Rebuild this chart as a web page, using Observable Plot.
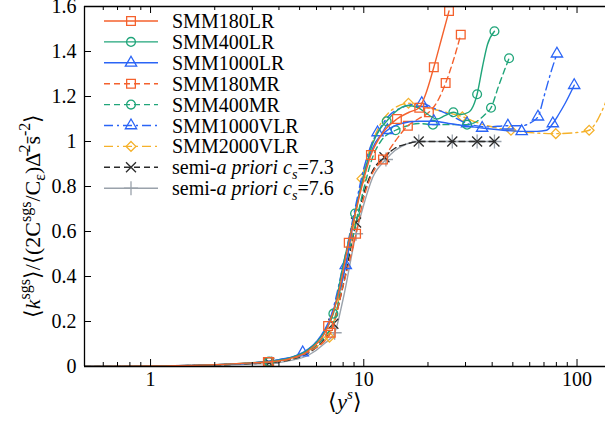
<!DOCTYPE html>
<html><head><meta charset="utf-8">
<script src="https://cdn.jsdelivr.net/npm/d3@7"></script>
<script src="https://cdn.jsdelivr.net/npm/@observablehq/plot@0.6"></script>
<style>body{margin:0;background:#fff} svg{display:block}</style>
</head><body><div id="chart"></div>
<script>
// ---- data ----
const xTicks = [1, 10, 100];
const xMinorTicks = [0.6,0.7,0.8,0.9,2,3,4,5,6,7,8,9,20,30,40,50,60,70,80,90];
const yTicks = [0, 0.2, 0.4, 0.6, 0.8, 1, 1.2, 1.4, 1.6];

const names = ["SMM180LR","SMM400LR","SMM1000LR","SMM180MR","SMM400MR","SMM1000VLR","SMM2000VLR","semi-a priori cs=7.3","semi-a priori cs=7.6"];

const smm180lrX = [0.49,1,2,3,3.55,4.5,5.5,6.8,7.5,8.5,9.5,10.8,12.3,14.3,16.3,18.2,19.5,21.3,23.2,25.1];
const smm180lrY = [0,0.002,0.008,0.016,0.02,0.035,0.07,0.18,0.3,0.55,0.75,0.94,1.04,1.10,1.13,1.15,1.21,1.33,1.46,1.58];
const smm180lrMX = [3.55,6.8,8.5,10.8,14.3,18.2,21.3,25.1];
const smm180lrMY = [0.02,0.18,0.55,0.94,1.10,1.15,1.33,1.58];

const smm400lrX = [0.49,1,2,3,3.6,4.5,5.5,6.5,7.2,8,9.1,10,11,12,12.8,14,16,18,20,22,24,26.3,28.5,31,33,34,36,38,41];
const smm400lrY = [0,0.002,0.008,0.017,0.022,0.038,0.075,0.15,0.235,0.45,0.68,0.85,0.99,1.06,1.09,1.13,1.16,1.15,1.12,1.10,1.115,1.13,1.12,1.13,1.17,1.21,1.33,1.43,1.49];
const smm400lrMX = [3.6,7.2,9.1,12.8,26.3,34,41];
const smm400lrMY = [0.022,0.235,0.68,1.09,1.13,1.21,1.49];

const smm1000lrX = [0.49,1,2,3,4,5.17,6,7,8.23,9,10,11,12.9,15,18,21.3,25,30,35.9,45,55,65,72,77,82,88,97];
const smm1000lrY = [0,0.002,0.008,0.016,0.03,0.062,0.11,0.22,0.45,0.66,0.85,0.97,1.05,1.08,1.09,1.09,1.08,1.07,1.06,1.05,1.045,1.045,1.05,1.08,1.12,1.17,1.25];
const smm1000lrMX = [5.17,8.23,12.9,21.3,35.9,55,77,97];
const smm1000lrMY = [0.062,0.45,1.05,1.09,1.06,1.045,1.08,1.25];

const smm180mrX = [0.49,1,2,3,3.6,4.5,5.5,7,8,9.2,10,11,12.3,14,16.1,18,20.2,22.2,24.2,26.3,28.5];
const smm180mrY = [0,0.002,0.007,0.015,0.02,0.033,0.065,0.15,0.36,0.59,0.75,0.86,0.92,1.0,1.07,1.1,1.13,1.18,1.26,1.36,1.475];
const smm180mrMX = [3.6,7,9.2,12.3,16.1,20.2,24.2,28.5];
const smm180mrMY = [0.02,0.15,0.59,0.92,1.07,1.13,1.26,1.475];

const smm400mrX = [0.49,1,2,3,3.6,4.5,5.5,6.5,7.3,8,9,10,11,12,14.1,16,18,21.1,25,30.5,34,37,39.5,43,48];
const smm400mrY = [0,0.002,0.007,0.015,0.02,0.033,0.065,0.13,0.21,0.4,0.6,0.79,0.93,1.0,1.05,1.07,1.08,1.075,1.075,1.075,1.09,1.12,1.15,1.25,1.37];
const smm400mrMX = [3.6,14.1,21.1,30.5,39.5,48];
const smm400mrMY = [0.02,1.05,1.075,1.075,1.15,1.37];

const smm1000vlrX = [0.49,1,2,3,4,5,6,7,8,9,10,11,11.6,13,15,18.7,21,25,30.5,38,47.4,55,61,65.6,70,75,80.5];
const smm1000vlrY = [0,0.002,0.008,0.016,0.03,0.055,0.11,0.22,0.45,0.68,0.88,1.0,1.04,1.11,1.15,1.17,1.15,1.12,1.08,1.065,1.07,1.07,1.085,1.11,1.2,1.3,1.39];
const smm1000vlrMX = [11.6,18.7,30.5,47.4,65.6,80.5];
const smm1000vlrMY = [1.04,1.17,1.08,1.07,1.11,1.39];

const smm2000vlrX = [0.49,1,2,3,3.5,4.5,5.5,6.9,8,9,9.8,11,12,14,16.2,18,22,29,35,42,49,60,79.5,100,114,122,130,137];
const smm2000vlrY = [0,0.002,0.008,0.016,0.02,0.035,0.07,0.14,0.4,0.63,0.835,1.0,1.08,1.15,1.17,1.16,1.14,1.11,1.08,1.06,1.05,1.04,1.035,1.04,1.05,1.08,1.13,1.18];
const smm2000vlrMX = [6.9,9.8,16.2,29,49,79.5,114];
const smm2000vlrMY = [0.13,0.835,1.17,1.11,1.05,1.035,1.05];

const semi73X = [0.49,1,2,3,3.6,4.5,5.5,6.5,7.2,8,9.2,10,11,12.5,14,16,18.1,22,26,30,34,41];
const semi73Y = [0,0.002,0.006,0.013,0.017,0.03,0.06,0.12,0.19,0.36,0.64,0.77,0.87,0.93,0.97,0.99,1.0,1.0,1.0,1.0,1.0,1.0];
const semi73MX = [3.6,7.2,9.2,12.5,18.1,26,34,41];
const semi73MY = [0.017,0.19,0.64,0.93,1.0,1.0,1.0,1.0];

const semi76X = [0.49,1,2,3,3.7,4.5,5.5,6.5,7.3,8,9.2,10,11,12.7,14,16,18.1,22,26,30,34,41];
const semi76Y = [0,0.001,0.005,0.011,0.014,0.026,0.05,0.1,0.15,0.3,0.59,0.72,0.84,0.92,0.96,0.99,1.0,1.0,1.0,1.0,1.0,1.0];
const semi76MX = [3.7,7.3,9.2,12.7,18.1,26,34,41];
const semi76MY = [0.014,0.15,0.59,0.92,1.0,1.0,1.0,1.0];

// ---- styles ----
const ORANGE = "#f4612d", GREEN = "#20a57a", BLUE = "#2a64f6", YELLOW = "#f5b12a", DARK = "#2b2b2b", GRAY = "#9aa2ab";
const DASH = "6,4", DASHDOT = "9,4,2,4";
const series = [
  {name: names[0], x: smm180lrX, y: smm180lrY, mx: smm180lrMX, my: smm180lrMY, color: ORANGE, dash: null, sym: "square", r: 4.9},
  {name: names[1], x: smm400lrX, y: smm400lrY, mx: smm400lrMX, my: smm400lrMY, color: GREEN, dash: null, sym: "circle", r: 4.4},
  {name: names[2], x: smm1000lrX, y: smm1000lrY, mx: smm1000lrMX, my: smm1000lrMY, color: BLUE, dash: null, sym: "triangle", r: 4.2},
  {name: names[3], x: smm180mrX, y: smm180mrY, mx: smm180mrMX, my: smm180mrMY, color: ORANGE, dash: DASH, sym: "square", r: 4.9},
  {name: names[4], x: smm400mrX, y: smm400mrY, mx: smm400mrMX, my: smm400mrMY, color: GREEN, dash: DASH, sym: "circle", r: 4.4},
  {name: names[5], x: smm1000vlrX, y: smm1000vlrY, mx: smm1000vlrMX, my: smm1000vlrMY, color: BLUE, dash: DASHDOT, sym: "triangle", r: 4.2},
  {name: names[6], x: smm2000vlrX, y: smm2000vlrY, mx: smm2000vlrMX, my: smm2000vlrMY, color: YELLOW, dash: DASHDOT, sym: "diamond2", r: 4.4},
  {name: names[7], x: semi73X, y: semi73Y, mx: semi73MX, my: semi73MY, color: DARK, dash: DASH, sym: "times", r: 4.6},
  {name: names[8], x: semi76X, y: semi76Y, mx: semi76MX, my: semi76MY, color: GRAY, dash: null, sym: "plus", r: 4.6}
];

const FONT = "'Liberation Serif', 'Times New Roman', serif";
const marks = [];
for (const s of series.slice().reverse()) {
  const pts = s.x.map((x, i) => ({x, y: s.y[i]}));
  const mps = s.mx.map((x, i) => ({x, y: s.my[i]}));
  marks.push(Plot.line(pts, {x: "x", y: "y", stroke: s.color, strokeWidth: 1.4, strokeDasharray: s.dash ?? undefined, curve: "monotone-x", clip: true}));
  marks.push(Plot.dot(mps, {x: "x", y: "y", symbol: () => s.sym, r: s.r, stroke: s.color, fill: "none", strokeWidth: 1.3, clip: true}));
}
// inward ticks (gnuplot style)
const plotW = 605 - 84, plotH = 421 - 6 - 55;
marks.push(Plot.tickX(xTicks, {x: d => d, insetTop: plotH - 7, stroke: "#000", strokeWidth: 1}));
marks.push(Plot.tickX(xTicks, {x: d => d, insetBottom: plotH - 7, stroke: "#000", strokeWidth: 1}));
marks.push(Plot.tickX(xMinorTicks, {x: d => d, insetTop: plotH - 4, stroke: "#000", strokeWidth: 1}));
marks.push(Plot.tickX(xMinorTicks, {x: d => d, insetBottom: plotH - 4, stroke: "#000", strokeWidth: 1}));
marks.push(Plot.tickY(yTicks, {y: d => d, insetRight: plotW - 7, stroke: "#000", strokeWidth: 1}));
// frame (left, bottom, top)
marks.push(Plot.ruleY([0, 1.6], {stroke: "#000", strokeWidth: 1.3}));
marks.push(Plot.ruleX([0.49], {stroke: "#000", strokeWidth: 1.3}));
marks.push(Plot.axisX({ticks: xTicks, tickSize: 0, tickPadding: 5, tickFormat: d => String(d), label: null, fontSize: 20}));
marks.push(Plot.axisY({ticks: yTicks, tickSize: 0, tickPadding: 8, tickFormat: d => String(Math.round(d * 10) / 10), label: null, fontSize: 20}));

const svgEl = Plot.plot({
  width: 605, height: 421,
  marginLeft: 84, marginRight: 0, marginTop: 6, marginBottom: 55,
  x: {type: "log", domain: [0.49, 136]},
  y: {domain: [0, 1.6]},
  style: {fontFamily: FONT, fontSize: "20px", color: "#000", background: "#fff", overflow: "hidden"},
  marks
});
document.getElementById("chart").appendChild(svgEl);

const svg = d3.select(svgEl);
// ---- legend ----
const lg = svg.append("g").attr("font-family", FONT).attr("font-size", 20).attr("fill", "#000").attr("text-anchor", "start");
const symMap = {square: d3.symbolSquare, circle: d3.symbolCircle, triangle: d3.symbolTriangle, diamond2: d3.symbolDiamond2, times: d3.symbolTimes, plus: d3.symbolPlus};
series.forEach((s, i) => {
  const cy = 21 + i * 20.9;
  lg.append("line").attr("x1", 104).attr("x2", 158).attr("y1", cy).attr("y2", cy)
    .attr("stroke", s.color).attr("stroke-width", 1.4).attr("stroke-dasharray", s.dash);
  lg.append("path").attr("transform", `translate(131,${cy})`)
    .attr("d", d3.symbol(symMap[s.sym], Math.PI * s.r * s.r)())
    .attr("fill", "none").attr("stroke", s.color).attr("stroke-width", 1.3);
  const t = lg.append("text").attr("x", 172).attr("y", cy + 7);
  if (i < 7) t.text(s.name);
  else {
    t.append("tspan").text("semi-");
    t.append("tspan").attr("font-style", "italic").text("a priori c");
    t.append("tspan").attr("font-style", "italic").attr("font-size", 14).attr("dy", 5).text("s");
    t.append("tspan").attr("dy", -5).text(i === 7 ? "=7.3" : "=7.6");
  }
});

// ---- axis titles ----
const xl = svg.append("text").attr("x", 345).attr("y", 409).attr("text-anchor", "middle")
  .attr("font-family", FONT).attr("font-size", 22).attr("fill", "#000");
xl.append("tspan").text("\u27E8");
xl.append("tspan").attr("font-style", "italic").text("y");
xl.append("tspan").attr("font-style", "italic").attr("font-size", 15).attr("dy", -10).text("s");
xl.append("tspan").attr("dy", 10).text("\u27E9");

const yl = svg.append("text").attr("transform", "translate(40,216) rotate(-90)").attr("text-anchor", "middle")
  .attr("font-family", FONT).attr("font-size", 22).attr("fill", "#000");
yl.append("tspan").text("\u27E8");
yl.append("tspan").attr("font-style", "italic").text("k");
yl.append("tspan").attr("font-size", 16).attr("dy", -10).text("sgs");
yl.append("tspan").attr("dy", 10).text("\u27E9/\u27E8(2C");
yl.append("tspan").attr("font-size", 16).attr("dy", -9).text("sgs");
yl.append("tspan").attr("dy", 9).text("/C");
yl.append("tspan").attr("font-size", 16).attr("dy", 5).text("\u03B5");
yl.append("tspan").attr("dy", -5).text(")\u0394\u0304");
yl.append("tspan").attr("font-size", 16).attr("dy", -10).text("2");
yl.append("tspan").attr("dy", 10).text("s\u0304");
yl.append("tspan").attr("font-size", 16).attr("dy", -10).text("-2");
yl.append("tspan").attr("dy", 10).text("\u27E9");
</script>
</body></html>
